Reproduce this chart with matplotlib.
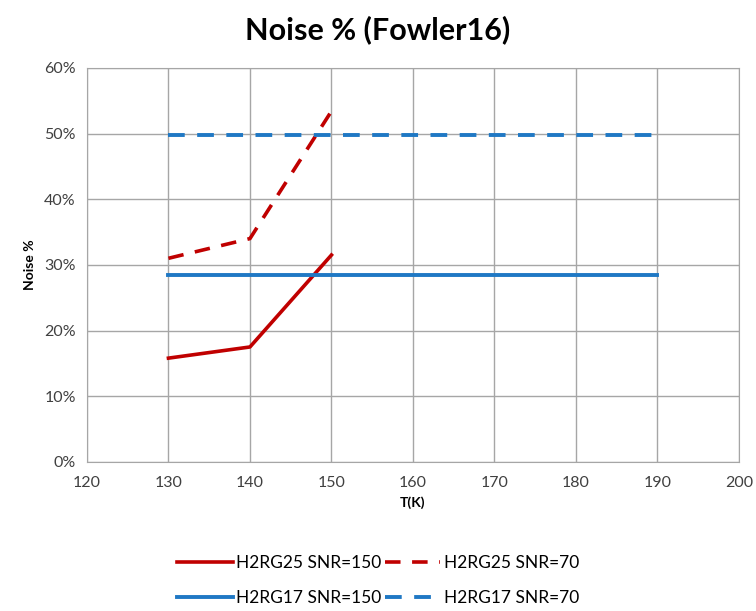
import matplotlib.pyplot as plt
from matplotlib.ticker import PercentFormatter

plt.rcParams['font.family'] = ['Lato', 'DejaVu Sans']

t25 = [130, 140, 150]
h2rg25_150 = [15.8, 17.5, 31.5]
h2rg25_70 = [31.0, 34.0, 53.4]
t17 = [130, 140, 150, 160, 170, 180, 190]
h2rg17_150 = [28.5] * 7
h2rg17_70 = [49.8] * 7

red = '#C00000'
blue = '#1F78C4'
dash = (0, (4.3, 3.2))

fig = plt.figure(figsize=(7.56, 6.11), dpi=100)
ax = fig.add_axes([0.115, 0.244, 0.8625, 0.645])

ax.plot(t25, h2rg25_150, color=red, lw=2.6, label='H2RG25 SNR=150')
ax.plot(t25, h2rg25_70, color=red, lw=2.6, ls=dash, label='H2RG25 SNR=70')
ax.plot(t17, h2rg17_150, color=blue, lw=2.8, label='H2RG17 SNR=150')
ax.plot(t17, h2rg17_70, color=blue, lw=2.8, ls=dash, label='H2RG17 SNR=70')

ax.set_xlim(120, 200)
ax.set_ylim(0, 60)
ax.set_xticks(range(120, 201, 10))
ax.set_yticks(range(0, 61, 10))
ax.yaxis.set_major_formatter(PercentFormatter(decimals=0))
ax.grid(True, color='#A6A6A6', lw=1)
ax.set_axisbelow(True)
for s in ax.spines.values():
    s.set_color('#A6A6A6')
ax.tick_params(length=0, labelsize=11.5, pad=8, colors='#404040')
ax.tick_params(axis='x', pad=10)

ax.set_xlabel('T(K)', fontsize=10, fontweight='bold', labelpad=5)
ax.set_ylabel('Noise %', fontsize=10, fontweight='bold', labelpad=6)
fig.suptitle('Noise % (Fowler16)', fontsize=22, fontweight='bold', y=0.975)

h, l = ax.get_legend_handles_labels()
order = [0, 2, 1, 3]
fig.legend([h[i] for i in order], [l[i] for i in order], ncol=2, loc='lower center',
           bbox_to_anchor=(0.5, -0.017), frameon=False, fontsize=12.5, handlelength=3.2,
           columnspacing=0.2, handletextpad=0.2, labelspacing=1.1)

fig.savefig('out.png', dpi=100)
